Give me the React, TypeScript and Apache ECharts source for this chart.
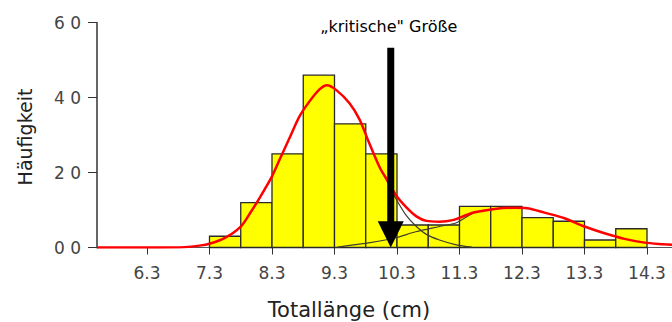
import React, { useEffect, useRef } from "react";
import * as echarts from "echarts";

// Histogram bins (cm) and counts
const binEdges = [7.3, 7.8, 8.3, 8.8, 9.3, 9.8, 10.3, 10.8, 11.3, 11.8, 12.3, 12.8, 13.3, 13.8, 14.3];
const counts = [3, 12, 25, 46, 33, 25, 6, 6, 11, 11, 8, 7, 2, 5];

// Fitted mixture curve (red)
const mixX = [5.5, 6.0, 6.5, 6.9, 7.14, 7.3, 7.54, 7.8, 7.95, 8.1, 8.3, 8.42, 8.58, 8.74, 8.9, 9.06, 9.18, 9.33, 9.54, 9.7, 9.84, 10.02, 10.15, 10.29, 10.45, 10.61, 10.77, 10.98, 11.19, 11.4, 11.54, 11.86, 12.18, 12.38, 12.66, 12.98, 13.3, 13.62, 13.94, 14.26, 14.58, 14.7];
const mixY = [0, 0, 0, 0.1, 0.5, 1.0, 2.5, 5.6, 9.2, 13.2, 19.0, 23.4, 29.2, 35.0, 39.0, 42.2, 43.3, 42.0, 38.5, 34.2, 28.5, 21.5, 17.8, 13.8, 10.7, 8.3, 7.1, 6.9, 7.3, 8.6, 9.4, 10.3, 10.6, 10.5, 9.3, 7.8, 5.6, 3.8, 2.3, 1.3, 0.85, 0.7];

// Component 1 (falling tail) and component 2 (rising flank), thin dark lines
const comp1X = [10.02, 10.15, 10.29, 10.45, 10.61, 10.77, 10.98, 11.25, 11.5];
const comp1Y = [21.3, 17.4, 12.8, 8.5, 5.6, 3.5, 2.0, 0.7, 0.1];
const comp2X = [9.35, 9.6, 9.87, 10.28, 10.6, 10.98, 11.25, 11.54, 11.86, 12.18];
const comp2Y = [0.1, 0.7, 1.3, 2.6, 4.2, 5.6, 6.6, 9.3, 10.3, 10.6];

// Arrow marking the critical size: [x, shaftTop, headBase, tip]
const arrow = [[10.2, 53.3, 7.0, 0]];
const arrowLabel = "\u201Ekritische\" Größe";

const xTicks = [6.3, 7.3, 8.3, 9.3, 10.3, 11.3, 12.3, 13.3, 14.3];
const yTickLabels: Record<number, string> = { 0: "0 0", 20: "2 0", 40: "4 0", 60: "6 0" };

const xTitle = "Totallänge (cm)";
const yTitle = "Häufigkeit";

const FONT = "DejaVu Sans";

export default function App() {
  const ref = useRef<HTMLDivElement>(null);
  useEffect(() => {
    document.body.style.margin = "0";
    const chart = echarts.init(ref.current!, null, { renderer: "svg" });
    const bars = counts.map((c, i) => [binEdges[i], binEdges[i + 1], c]);
    chart.setOption({
      animation: false,
      grid: { left: 97, right: 0, top: 22.7, bottom: 74.5 },
      xAxis: {
        type: "value",
        min: 5.5,
        max: 14.7,
        splitLine: { show: false },
        axisLine: { show: true, lineStyle: { color: "#555", width: 1 } },
        axisTick: { show: true, length: 7, customValues: xTicks, lineStyle: { color: "#333" } },
        axisLabel: {
          customValues: xTicks,
          formatter: (v: number) => v.toFixed(1),
          margin: 17,
          fontSize: 17,
          fontFamily: FONT,
          color: "#444",
        },
      },
      yAxis: {
        type: "value",
        min: 0,
        max: 60,
        interval: 20,
        splitLine: { show: false },
        axisLine: { show: true, lineStyle: { color: "#666", width: 2 } },
        axisTick: { show: true, length: 9, lineStyle: { color: "#333" } },
        axisLabel: {
          formatter: (v: number) => yTickLabels[v] ?? String(v),
          margin: 16,
          fontSize: 17,
          fontFamily: FONT,
          color: "#444",
        },
      },
      graphic: [
        {
          type: "text",
          x: 349,
          y: 310,
          style: { text: xTitle, font: `21px "${FONT}"`, fill: "#222", align: "center", verticalAlign: "middle" },
        },
        {
          type: "text",
          x: 25,
          y: 137,
          rotation: Math.PI / 2,
          style: { text: yTitle, font: `19px "${FONT}"`, fill: "#222", align: "center", verticalAlign: "middle" },
        },
      ],
      series: [
        {
          type: "custom",
          z: 1,
          data: bars,
          encode: { x: [0, 1], y: 2 },
          renderItem: (params: any, api: any) => {
            const p0 = api.coord([api.value(0), api.value(2)]);
            const p1 = api.coord([api.value(1), 0]);
            return {
              type: "rect",
              shape: { x: p0[0], y: p0[1], width: p1[0] - p0[0], height: p1[1] - p0[1] },
              style: { fill: "#ffff00", stroke: "#2a2a2a", lineWidth: 1.3 },
            };
          },
        },
        {
          type: "line",
          z: 2,
          data: comp1X.map((x, i) => [x, comp1Y[i]]),
          smooth: 0.3,
          showSymbol: false,
          lineStyle: { color: "#3f3f30", width: 1.2 },
        },
        {
          type: "line",
          z: 2,
          data: comp2X.map((x, i) => [x, comp2Y[i]]),
          smooth: 0.3,
          showSymbol: false,
          lineStyle: { color: "#3f3f30", width: 1.2 },
        },
        {
          type: "line",
          z: 3,
          data: mixX.map((x, i) => [x, mixY[i]]),
          smooth: 0.3,
          showSymbol: false,
          lineStyle: { color: "#ff0000", width: 2.5 },
        },
        {
          type: "custom",
          z: 4,
          data: arrow,
          clip: false,
          encode: { x: 0, y: [1, 2, 3] },
          renderItem: (params: any, api: any) => {
            const x = api.value(0);
            const top = api.coord([x, api.value(1)]);
            const base = api.coord([x, api.value(2)]);
            const tip = api.coord([x, api.value(3)]);
            return {
              type: "group",
              children: [
                {
                  type: "rect",
                  shape: { x: top[0] - 3.5, y: top[1], width: 7, height: base[1] - top[1] + 1 },
                  style: { fill: "#000" },
                },
                {
                  type: "polygon",
                  shape: { points: [[base[0] - 13, base[1]], [base[0] + 13, base[1]], [tip[0], tip[1]]] },
                  style: { fill: "#000" },
                },
                {
                  type: "text",
                  style: {
                    text: arrowLabel,
                    x: top[0] - 2,
                    y: top[1] - 21,
                    align: "center",
                    verticalAlign: "middle",
                    font: `16px "${FONT}"`,
                    fill: "#000",
                  },
                },
              ],
            };
          },
        },
      ],
    });
    return () => chart.dispose();
  }, []);
  return <div ref={ref} style={{ width: 672, height: 322 }} />;
}
